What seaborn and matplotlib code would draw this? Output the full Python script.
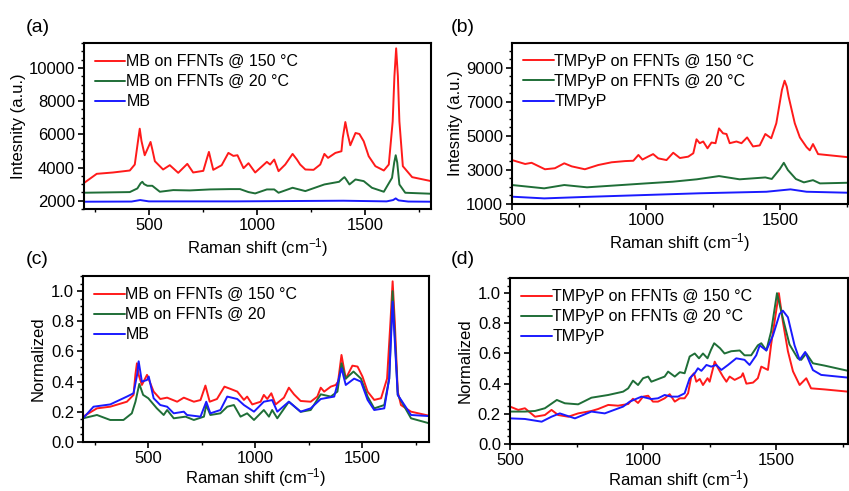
import matplotlib
matplotlib.use('Agg')
import matplotlib.pyplot as plt
import seaborn as sns
import numpy as np
from matplotlib.ticker import MultipleLocator

# ---- panel (a): MB, raw intensity ----
a_x_red = [195, 259, 334, 412, 435, 450, 458, 466, 481, 500, 508, 516, 528, 566, 597, 636, 678, 705,
           752, 770, 778, 786, 798, 837, 868, 891, 910, 938, 961, 992, 1046, 1061, 1080, 1100, 1131,
           1165, 1185, 1200, 1224, 1262, 1293, 1312, 1329, 1363, 1391, 1397, 1409, 1420, 1432, 1456,
           1474, 1494, 1517, 1548, 1587, 1610, 1628, 1636, 1644, 1652, 1659, 1675, 1718, 1806]
a_y_red = [3020, 3620, 3700, 3820, 4180, 5600, 6340, 5600, 4740, 5300, 5540, 5100, 4380, 3880, 4140,
           3680, 4220, 3700, 3800, 4600, 4940, 4500, 3860, 4140, 4880, 4700, 4740, 3960, 4260, 3700,
           4340, 4180, 4480, 3780, 4180, 4820, 4480, 4180, 3880, 3860, 4180, 4820, 4580, 4880, 4980,
           5780, 6740, 6000, 5340, 6080, 6020, 5580, 4680, 4080, 3820, 4180, 6780, 9500, 11180, 9500,
           6780, 4080, 3420, 3180]
a_x_green = [195, 412, 447, 462, 470, 478, 493, 516, 551, 613, 690, 783, 876, 922, 961, 992, 1046,
             1080, 1100, 1165, 1224, 1312, 1380, 1398, 1405, 1412, 1428, 1456, 1494, 1532, 1587, 1625,
             1635, 1642, 1649, 1659, 1686, 1806]
a_y_green = [2480, 2520, 2740, 3050, 3140, 3000, 2900, 2900, 2540, 2640, 2620, 2680, 2700, 2700, 2520,
             2440, 2680, 2680, 2480, 2780, 2580, 2980, 3140, 3350, 3420, 3300, 2980, 3280, 3180, 2780,
             2540, 3380, 4300, 4740, 4300, 2980, 2480, 2420]
a_x_blue = [195, 420, 460, 500, 900, 1400, 1600, 1630, 1642, 1655, 1700, 1806]
a_y_blue = [1940, 1950, 2040, 1960, 1960, 2000, 1960, 2040, 2140, 2020, 1950, 1940]

# ---- panel (b): TMPyP, raw intensity ----
b_x_red = [500, 549, 573, 623, 660, 695, 723, 772, 822, 872, 922, 953, 972, 987, 1009, 1027, 1046,
           1077, 1102, 1127, 1158, 1177, 1189, 1201, 1214, 1230, 1245, 1260, 1273, 1288, 1301, 1313,
           1338, 1357, 1378, 1400, 1425, 1446, 1468, 1487, 1508, 1518, 1526, 1533, 1556, 1575, 1600,
           1612, 1624, 1643, 1760]
b_y_red = [3580, 3350, 3420, 3040, 3100, 3390, 3210, 3040, 3290, 3450, 3520, 3540, 3880, 3610, 3790,
           3930, 3680, 3580, 4010, 3700, 3780, 3980, 4800, 4570, 4670, 4270, 4610, 4570, 5440, 5150,
           5110, 4570, 4670, 4570, 4910, 4380, 4440, 5110, 4860, 5740, 7700, 8240, 7900, 7300, 5740,
           4910, 4340, 4150, 4520, 3930, 3740]
b_x_green = [500, 620, 695, 780, 1000, 1100, 1190, 1273, 1350, 1446, 1470, 1500, 1515, 1530, 1560,
             1590, 1624, 1650, 1760]
b_y_green = [2115, 1920, 2115, 1980, 2210, 2310, 2450, 2640, 2450, 2560, 2470, 3050, 3420, 3000, 2470,
             2270, 2400, 2210, 2250]
b_x_blue = [500, 620, 800, 1000, 1200, 1450, 1540, 1600, 1760]
b_y_blue = [1430, 1330, 1430, 1530, 1630, 1720, 1860, 1720, 1660]

# ---- panel (c): MB, normalized ----
c_x_red = [195, 260, 322, 400, 431, 440, 447, 454, 470, 494, 525, 556, 588, 635, 666, 713, 744, 767,
           787, 821, 856, 884, 916, 947, 962, 986, 1025, 1040, 1056, 1075, 1095, 1134, 1157, 1181,
           1212, 1259, 1290, 1306, 1322, 1353, 1376, 1387, 1403, 1423, 1454, 1478, 1501, 1525, 1556,
           1588, 1616, 1632, 1642, 1652, 1666, 1681, 1728, 1810]
c_y_red = [0.168, 0.223, 0.234, 0.267, 0.312, 0.450, 0.522, 0.450, 0.378, 0.445, 0.334, 0.285, 0.294,
           0.267, 0.294, 0.267, 0.278, 0.374, 0.267, 0.285, 0.367, 0.352, 0.334, 0.279, 0.301, 0.249,
           0.267, 0.312, 0.285, 0.323, 0.249, 0.294, 0.360, 0.316, 0.272, 0.267, 0.301, 0.360, 0.334,
           0.367, 0.378, 0.400, 0.577, 0.420, 0.506, 0.500, 0.434, 0.334, 0.279, 0.290, 0.420, 0.800,
           1.065, 0.800, 0.334, 0.245, 0.201, 0.175]
c_x_green = [195, 260, 322, 384, 423, 440, 458, 476, 500, 540, 572, 588, 619, 674, 713, 760, 771, 790,
             837, 869, 900, 931, 962, 994, 1040, 1064, 1079, 1103, 1157, 1212, 1259, 1306, 1353, 1384,
             1403, 1423, 1459, 1494, 1525, 1556, 1603, 1626, 1642, 1666, 1728, 1810]
c_y_green = [0.157, 0.179, 0.146, 0.146, 0.190, 0.267, 0.385, 0.312, 0.290, 0.223, 0.179, 0.212, 0.157,
             0.168, 0.146, 0.168, 0.245, 0.179, 0.190, 0.234, 0.245, 0.168, 0.190, 0.146, 0.212, 0.168,
             0.212, 0.157, 0.267, 0.200, 0.212, 0.316, 0.301, 0.334, 0.522, 0.420, 0.467, 0.420, 0.301,
             0.223, 0.245, 0.420, 1.000, 0.312, 0.157, 0.125]
c_x_blue = [195, 244, 322, 400, 431, 447, 455, 470, 494, 502, 525, 556, 588, 619, 666, 681, 744, 771,
            790, 837, 869, 916, 947, 994, 1040, 1079, 1103, 1157, 1212, 1259, 1306, 1369, 1403, 1423,
            1462, 1494, 1525, 1556, 1603, 1626, 1642, 1666, 1728, 1810]
c_y_blue = [0.157, 0.234, 0.249, 0.301, 0.323, 0.440, 0.535, 0.400, 0.411, 0.434, 0.290, 0.245, 0.234,
            0.190, 0.201, 0.179, 0.168, 0.267, 0.190, 0.212, 0.301, 0.285, 0.245, 0.201, 0.267, 0.278,
            0.201, 0.267, 0.201, 0.223, 0.285, 0.301, 0.489, 0.378, 0.420, 0.400, 0.279, 0.212, 0.223,
            0.420, 0.930, 0.312, 0.179, 0.172]

# ---- panel (d): TMPyP, normalized ----
d_x_red = [500, 531, 556, 594, 631, 656, 681, 719, 756, 806, 831, 869, 906, 944, 962, 981, 1000, 1019,
           1037, 1056, 1081, 1100, 1119, 1138, 1156, 1169, 1181, 1191, 1200, 1213, 1225, 1242, 1250,
           1269, 1282, 1300, 1313, 1325, 1344, 1369, 1375, 1388, 1413, 1431, 1444, 1469, 1481, 1510,
           1525, 1544, 1563, 1588, 1613, 1631, 1681, 1770]
d_y_red = [0.248, 0.226, 0.237, 0.181, 0.192, 0.226, 0.192, 0.181, 0.203, 0.219, 0.232, 0.259, 0.254,
           0.265, 0.300, 0.272, 0.314, 0.320, 0.281, 0.281, 0.303, 0.330, 0.281, 0.303, 0.303, 0.336,
           0.447, 0.469, 0.413, 0.431, 0.391, 0.436, 0.413, 0.546, 0.502, 0.447, 0.413, 0.447, 0.425,
           0.447, 0.469, 0.400, 0.407, 0.436, 0.513, 0.491, 0.660, 1.000, 0.812, 0.615, 0.482, 0.391,
           0.436, 0.369, 0.362, 0.347]
d_x_green = [500, 556, 594, 631, 676, 706, 756, 806, 869, 925, 944, 962, 981, 1000, 1019, 1031, 1081,
             1094, 1119, 1138, 1156, 1175, 1194, 1210, 1225, 1242, 1255, 1267, 1289, 1306, 1331, 1363,
             1381, 1406, 1431, 1444, 1463, 1481, 1503, 1525, 1550, 1581, 1594, 1613, 1638, 1681, 1770]
d_y_green = [0.215, 0.215, 0.219, 0.237, 0.292, 0.270, 0.263, 0.307, 0.325, 0.347, 0.369, 0.420, 0.391,
             0.436, 0.447, 0.413, 0.447, 0.480, 0.447, 0.476, 0.469, 0.580, 0.600, 0.568, 0.600, 0.568,
             0.624, 0.668, 0.635, 0.600, 0.615, 0.620, 0.588, 0.588, 0.654, 0.668, 0.620, 0.746, 1.000,
             0.834, 0.660, 0.568, 0.558, 0.600, 0.535, 0.520, 0.485]
d_x_blue = [500, 556, 619, 656, 687, 744, 806, 856, 925, 950, 994, 1031, 1056, 1081, 1106, 1131, 1156,
            1175, 1194, 1206, 1219, 1238, 1256, 1275, 1294, 1319, 1350, 1381, 1400, 1425, 1438, 1463,
            1488, 1513, 1525, 1544, 1569, 1588, 1609, 1638, 1669, 1770]
d_y_blue = [0.170, 0.166, 0.148, 0.181, 0.203, 0.170, 0.215, 0.203, 0.248, 0.281, 0.314, 0.298, 0.303,
            0.325, 0.314, 0.314, 0.336, 0.436, 0.469, 0.502, 0.485, 0.524, 0.513, 0.524, 0.491, 0.524,
            0.568, 0.558, 0.524, 0.588, 0.654, 0.620, 0.720, 0.862, 0.884, 0.840, 0.654, 0.558, 0.610,
            0.490, 0.458, 0.440]

RED, GREEN, BLUE = '#ff1a1a', '#1f6e37', '#1a1aff'

sns.set_theme(style='ticks')
plt.rcParams['font.family'] = ['Liberation Sans', 'DejaVu Sans']
plt.rcParams['mathtext.fontset'] = 'custom'
plt.rcParams['mathtext.rm'] = 'Liberation Sans'
plt.rcParams['mathtext.it'] = 'Liberation Sans'
for k in ('text.color', 'axes.labelcolor', 'xtick.color', 'ytick.color', 'axes.edgecolor'):
    plt.rcParams[k] = 'black'

fig = plt.figure(figsize=(8.49, 4.91), dpi=100)
ax_a = fig.add_axes([0.0989, 0.5743, 0.4087, 0.3381])
ax_b = fig.add_axes([0.6031, 0.5845, 0.3958, 0.3285])
ax_c = fig.add_axes([0.0978, 0.0998, 0.4075, 0.3380])
ax_d = fig.add_axes([0.6007, 0.0957, 0.3982, 0.3380])

def draw(ax, xs, ys, labels):
    for x, y, lab, col in zip(xs, ys, labels, [RED, GREEN, BLUE]):
        sns.lineplot(x=x, y=y, ax=ax, color=col, lw=1.4, label=lab, sort=False, estimator=None)
    ax.legend(loc='upper left', bbox_to_anchor=(0.0, 1.0), frameon=False, fontsize=11.5,
              handlelength=1.9, handletextpad=0.05, labelspacing=0.32, borderaxespad=0.3)
    ax.set_xlabel('Raman shift (cm$^{-1}$)', fontsize=12, labelpad=2)
    for s in ax.spines.values():
        s.set_linewidth(1.5)
    ax.tick_params(which='major', length=4.5, width=1.2, labelsize=12, direction='out', pad=2)
    ax.tick_params(which='minor', length=2.5, width=1.0, direction='out')

draw(ax_a, [a_x_red, a_x_green, a_x_blue], [a_y_red, a_y_green, a_y_blue],
     ['MB on FFNTs @ 150 °C', 'MB on FFNTs @ 20 °C', 'MB'])
ax_a.set_xlim(200, 1805)
ax_a.set_ylim(1500, 11500)
ax_a.set_yticks([2000, 4000, 6000, 8000, 10000])
ax_a.yaxis.set_minor_locator(MultipleLocator(500))
ax_a.set_ylabel('Intesnity (a.u.)', fontsize=12, labelpad=2)

draw(ax_b, [b_x_red, b_x_green, b_x_blue], [b_y_red, b_y_green, b_y_blue],
     ['TMPyP on FFNTs @ 150 °C', 'TMPyP on FFNTs @ 20 °C', 'TMPyP'])
ax_b.set_xlim(500, 1755)
ax_b.set_ylim(1000, 10470)
ax_b.set_yticks([1000, 3000, 5000, 7000, 9000])
ax_b.yaxis.set_minor_locator(MultipleLocator(500))
ax_b.set_ylabel('Intesnity (a.u.)', fontsize=12, labelpad=2)

draw(ax_c, [c_x_red, c_x_green, c_x_blue], [c_y_red, c_y_green, c_y_blue],
     ['MB on FFNTs @ 150 °C', 'MB on FFNTs @ 20', 'MB'])
ax_c.set_xlim(195, 1812)
ax_c.set_ylim(0, 1.1)
ax_c.set_yticks([0.0, 0.2, 0.4, 0.6, 0.8, 1.0])
ax_c.yaxis.set_minor_locator(MultipleLocator(0.05))
ax_c.set_ylabel('Normalized', fontsize=12, labelpad=4)

draw(ax_d, [d_x_red, d_x_green, d_x_blue], [d_y_red, d_y_green, d_y_blue],
     ['TMPyP on FFNTs @ 150 °C', 'TMPyP on FFNTs @ 20 °C', 'TMPyP'])
ax_d.set_xlim(500, 1770)
ax_d.set_ylim(0, 1.1)
ax_d.set_yticks([0.0, 0.2, 0.4, 0.6, 0.8, 1.0])
ax_d.yaxis.set_minor_locator(MultipleLocator(0.05))
ax_d.set_ylabel('Normalized', fontsize=12, labelpad=4)

for ax in (ax_a, ax_b, ax_c, ax_d):
    ax.set_xticks([500, 1000, 1500])
    ax.xaxis.set_minor_locator(MultipleLocator(250))
for ax in (ax_c, ax_d):
    ax.set_yticklabels(['0.0', '0.2', '0.4', '0.6', '0.8', '1.0'])
    ax.xaxis.labelpad = 0

for lab, (px, py) in zip(['(a)', '(b)', '(c)', '(d)'],
                         [(26, 27), (451, 27), (26, 260), (451, 260)]):
    fig.text(px / 849, 1 - py / 491, lab, fontsize=14, ha='left', va='center')

fig.savefig('out.png', dpi=100)
